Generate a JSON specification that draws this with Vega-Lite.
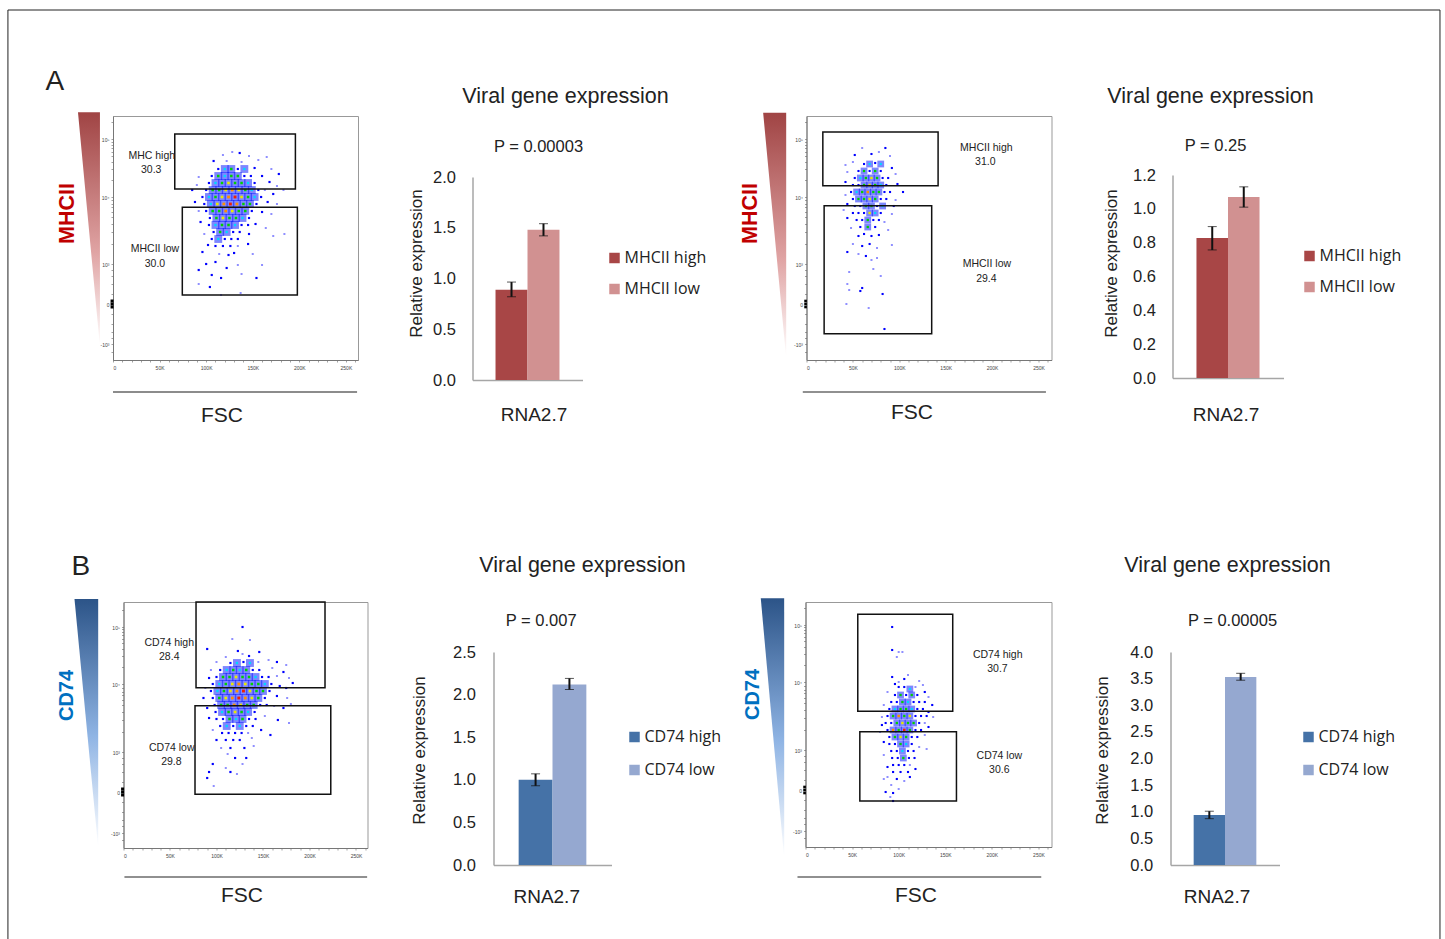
{"$schema":"https://vega.github.io/schema/vega-lite/v6.json","background":"white","padding":{"left":6,"top":9,"right":0,"bottom":0},"bounds":"flush","spacing":486,"resolve":{"scale":{"color":"independent","size":"independent"},"legend":{"color":"independent","size":"independent"}},
"config":{"font":"Liberation Sans","axis":{"grid":false},"title":{"font":"Liberation Sans","fontWeight":"normal","color":"#222"},"text":{"font":"Liberation Sans"}},
"datasets":{
"a1":[{"x":113,"y":191,"d":1},{"x":120,"y":191,"d":2},{"x":127,"y":191,"d":3},{"x":134,"y":191,"d":1},{"x":141,"y":191,"d":2},{"x":106,"y":184,"d":1},{"x":113,"y":184,"d":3},{"x":120,"y":184,"d":2},{"x":127,"y":184,"d":3},{"x":134,"y":184,"d":3},{"x":141,"y":184,"d":1},{"x":148,"y":184,"d":1},{"x":103,"y":177,"d":1},{"x":110,"y":177,"d":2},{"x":117,"y":177,"d":3},{"x":124,"y":177,"d":4},{"x":131,"y":177,"d":3},{"x":138,"y":177,"d":3},{"x":145,"y":177,"d":2},{"x":152,"y":177,"d":1},{"x":100,"y":170,"d":1},{"x":107,"y":170,"d":3},{"x":114,"y":170,"d":3},{"x":121,"y":170,"d":4},{"x":128,"y":170,"d":5},{"x":135,"y":170,"d":4},{"x":142,"y":170,"d":3},{"x":149,"y":170,"d":2},{"x":156,"y":170,"d":1},{"x":96,"y":163,"d":1},{"x":103,"y":163,"d":2},{"x":110,"y":163,"d":3},{"x":117,"y":163,"d":4},{"x":124,"y":163,"d":5},{"x":131,"y":163,"d":6},{"x":138,"y":163,"d":4},{"x":145,"y":163,"d":3},{"x":152,"y":163,"d":2},{"x":159,"y":163,"d":1},{"x":98,"y":156,"d":1},{"x":105,"y":156,"d":2},{"x":112,"y":156,"d":4},{"x":119,"y":156,"d":5},{"x":126,"y":156,"d":6},{"x":133,"y":156,"d":5},{"x":140,"y":156,"d":3},{"x":147,"y":156,"d":3},{"x":154,"y":156,"d":1},{"x":100,"y":149,"d":1},{"x":107,"y":149,"d":3},{"x":114,"y":149,"d":3},{"x":121,"y":149,"d":5},{"x":128,"y":149,"d":4},{"x":135,"y":149,"d":3},{"x":142,"y":149,"d":3},{"x":149,"y":149,"d":1},{"x":104,"y":142,"d":1},{"x":111,"y":142,"d":3},{"x":118,"y":142,"d":4},{"x":125,"y":142,"d":3},{"x":132,"y":142,"d":3},{"x":139,"y":142,"d":2},{"x":146,"y":142,"d":1},{"x":103,"y":135,"d":1},{"x":110,"y":135,"d":2},{"x":117,"y":135,"d":3},{"x":124,"y":135,"d":3},{"x":131,"y":135,"d":2},{"x":138,"y":135,"d":1},{"x":145,"y":135,"d":1},{"x":108,"y":128,"d":1},{"x":115,"y":128,"d":3},{"x":122,"y":128,"d":2},{"x":129,"y":128,"d":1},{"x":136,"y":128,"d":1},{"x":106,"y":121,"d":1},{"x":113,"y":121,"d":2},{"x":120,"y":121,"d":1},{"x":127,"y":121,"d":1},{"x":134,"y":121,"d":1},{"x":110,"y":114,"d":1},{"x":118,"y":114,"d":1},{"x":126,"y":114,"d":1},{"x":118,"y":205,"d":0},{"x":128,"y":208,"d":0},{"x":136,"y":207,"d":1},{"x":146,"y":204,"d":0},{"x":156,"y":200,"d":0},{"x":165,"y":203,"d":0},{"x":108,"y":199,"d":1},{"x":122,"y":199,"d":0},{"x":138,"y":198,"d":0},{"x":152,"y":192,"d":1},{"x":170,"y":191,"d":0},{"x":178,"y":186,"d":1},{"x":92,"y":183,"d":0},{"x":160,"y":184,"d":1},{"x":168,"y":178,"d":1},{"x":176,"y":174,"d":0},{"x":85,"y":170,"d":1},{"x":90,"y":175,"d":0},{"x":163,"y":170,"d":0},{"x":172,"y":166,"d":1},{"x":183,"y":170,"d":0},{"x":88,"y":158,"d":1},{"x":166,"y":158,"d":1},{"x":176,"y":156,"d":0},{"x":92,"y":149,"d":0},{"x":160,"y":148,"d":1},{"x":170,"y":146,"d":0},{"x":94,"y":138,"d":1},{"x":153,"y":136,"d":1},{"x":164,"y":132,"d":0},{"x":98,"y":126,"d":0},{"x":146,"y":126,"d":1},{"x":172,"y":124,"d":0},{"x":184,"y":126,"d":0},{"x":102,"y":115,"d":1},{"x":134,"y":114,"d":0},{"x":145,"y":116,"d":1},{"x":96,"y":108,"d":1},{"x":114,"y":106,"d":0},{"x":124,"y":105,"d":1},{"x":130,"y":107,"d":1},{"x":150,"y":106,"d":0},{"x":100,"y":96,"d":1},{"x":110,"y":98,"d":1},{"x":122,"y":92,"d":1},{"x":134,"y":95,"d":0},{"x":92,"y":90,"d":1},{"x":106,"y":85,"d":1},{"x":138,"y":86,"d":0},{"x":160,"y":95,"d":0},{"x":116,"y":82,"d":1},{"x":154,"y":82,"d":1},{"x":92,"y":76,"d":0},{"x":104,"y":73,"d":1},{"x":116,"y":65,"d":0},{"x":137,"y":67,"d":0},{"x":-1,"y":56,"d":7},{"x":-1,"y":53,"d":7},{"x":-1,"y":59,"d":7}],
"a2":[{"x":62,"y":196,"d":1},{"x":68,"y":196,"d":2},{"x":74,"y":197,"d":1},{"x":80,"y":196,"d":2},{"x":56,"y":189,"d":1},{"x":62,"y":189,"d":3},{"x":68,"y":189,"d":1},{"x":74,"y":189,"d":3},{"x":80,"y":189,"d":1},{"x":52,"y":182,"d":1},{"x":58,"y":182,"d":2},{"x":64,"y":182,"d":3},{"x":70,"y":182,"d":4},{"x":76,"y":182,"d":3},{"x":82,"y":182,"d":1},{"x":88,"y":182,"d":1},{"x":50,"y":175,"d":1},{"x":56,"y":175,"d":1},{"x":62,"y":175,"d":3},{"x":68,"y":175,"d":4},{"x":74,"y":175,"d":3},{"x":80,"y":175,"d":2},{"x":86,"y":175,"d":1},{"x":48,"y":168,"d":1},{"x":54,"y":168,"d":2},{"x":60,"y":168,"d":3},{"x":66,"y":168,"d":5},{"x":72,"y":168,"d":3},{"x":78,"y":168,"d":3},{"x":84,"y":168,"d":1},{"x":90,"y":168,"d":1},{"x":50,"y":161,"d":1},{"x":56,"y":161,"d":3},{"x":62,"y":161,"d":3},{"x":68,"y":161,"d":4},{"x":74,"y":161,"d":3},{"x":80,"y":161,"d":1},{"x":86,"y":161,"d":1},{"x":52,"y":154,"d":1},{"x":58,"y":154,"d":1},{"x":64,"y":154,"d":3},{"x":70,"y":154,"d":3},{"x":76,"y":154,"d":1},{"x":82,"y":154,"d":2},{"x":50,"y":147,"d":1},{"x":56,"y":147,"d":1},{"x":62,"y":147,"d":1},{"x":68,"y":147,"d":4},{"x":74,"y":147,"d":2},{"x":80,"y":147,"d":1},{"x":54,"y":140,"d":1},{"x":60,"y":140,"d":1},{"x":66,"y":140,"d":3},{"x":72,"y":140,"d":1},{"x":78,"y":140,"d":1},{"x":58,"y":133,"d":1},{"x":66,"y":133,"d":3},{"x":74,"y":133,"d":1},{"x":60,"y":212,"d":0},{"x":70,"y":206,"d":1},{"x":78,"y":208,"d":0},{"x":85,"y":212,"d":1},{"x":52,"y":205,"d":1},{"x":90,"y":204,"d":0},{"x":42,"y":195,"d":0},{"x":50,"y":198,"d":0},{"x":92,"y":192,"d":1},{"x":44,"y":188,"d":0},{"x":96,"y":186,"d":0},{"x":42,"y":178,"d":1},{"x":98,"y":176,"d":1},{"x":104,"y":168,"d":1},{"x":42,"y":165,"d":0},{"x":96,"y":160,"d":0},{"x":44,"y":156,"d":1},{"x":94,"y":154,"d":1},{"x":40,"y":150,"d":0},{"x":92,"y":146,"d":0},{"x":44,"y":142,"d":1},{"x":84,"y":138,"d":0},{"x":48,"y":132,"d":0},{"x":88,"y":130,"d":0},{"x":56,"y":124,"d":1},{"x":62,"y":126,"d":1},{"x":70,"y":124,"d":1},{"x":78,"y":125,"d":1},{"x":50,"y":116,"d":0},{"x":60,"y":114,"d":1},{"x":68,"y":116,"d":1},{"x":76,"y":112,"d":0},{"x":92,"y":115,"d":0},{"x":44,"y":108,"d":1},{"x":56,"y":106,"d":0},{"x":64,"y":104,"d":1},{"x":70,"y":100,"d":0},{"x":76,"y":102,"d":0},{"x":72,"y":91,"d":0},{"x":80,"y":84,"d":0},{"x":46,"y":88,"d":0},{"x":44,"y":76,"d":0},{"x":46,"y":70,"d":0},{"x":58,"y":69,"d":1},{"x":60,"y":72,"d":1},{"x":82,"y":66,"d":1},{"x":43,"y":56,"d":0},{"x":67,"y":52,"d":0},{"x":84,"y":31,"d":1},{"x":-1,"y":56,"d":7},{"x":-1,"y":53,"d":7},{"x":-1,"y":59,"d":7}],
"b1":[{"x":115,"y":185,"d":1},{"x":122,"y":185,"d":2},{"x":129,"y":186,"d":1},{"x":136,"y":185,"d":2},{"x":104,"y":178,"d":1},{"x":111,"y":178,"d":2},{"x":118,"y":178,"d":3},{"x":125,"y":178,"d":2},{"x":132,"y":178,"d":3},{"x":139,"y":178,"d":1},{"x":146,"y":178,"d":1},{"x":100,"y":171,"d":1},{"x":107,"y":171,"d":3},{"x":114,"y":171,"d":3},{"x":121,"y":171,"d":4},{"x":128,"y":171,"d":3},{"x":135,"y":171,"d":3},{"x":142,"y":171,"d":2},{"x":149,"y":171,"d":1},{"x":156,"y":171,"d":1},{"x":96,"y":164,"d":1},{"x":103,"y":164,"d":2},{"x":110,"y":164,"d":3},{"x":117,"y":164,"d":4},{"x":124,"y":164,"d":5},{"x":131,"y":164,"d":4},{"x":138,"y":164,"d":3},{"x":145,"y":164,"d":3},{"x":152,"y":164,"d":2},{"x":159,"y":164,"d":1},{"x":94,"y":157,"d":1},{"x":101,"y":157,"d":2},{"x":108,"y":157,"d":3},{"x":115,"y":157,"d":4},{"x":122,"y":157,"d":5},{"x":129,"y":157,"d":6},{"x":136,"y":157,"d":4},{"x":143,"y":157,"d":3},{"x":150,"y":157,"d":3},{"x":157,"y":157,"d":1},{"x":96,"y":150,"d":1},{"x":103,"y":150,"d":3},{"x":110,"y":150,"d":4},{"x":117,"y":150,"d":5},{"x":124,"y":150,"d":6},{"x":131,"y":150,"d":5},{"x":138,"y":150,"d":4},{"x":145,"y":150,"d":3},{"x":152,"y":150,"d":1},{"x":98,"y":143,"d":1},{"x":105,"y":143,"d":3},{"x":112,"y":143,"d":3},{"x":119,"y":143,"d":5},{"x":126,"y":143,"d":4},{"x":133,"y":143,"d":3},{"x":140,"y":143,"d":3},{"x":147,"y":143,"d":1},{"x":154,"y":143,"d":1},{"x":99,"y":136,"d":1},{"x":106,"y":136,"d":2},{"x":113,"y":136,"d":3},{"x":120,"y":136,"d":4},{"x":127,"y":136,"d":3},{"x":134,"y":136,"d":2},{"x":141,"y":136,"d":1},{"x":100,"y":129,"d":1},{"x":107,"y":129,"d":1},{"x":114,"y":129,"d":3},{"x":121,"y":129,"d":2},{"x":128,"y":129,"d":3},{"x":135,"y":129,"d":1},{"x":142,"y":129,"d":1},{"x":104,"y":122,"d":1},{"x":111,"y":122,"d":2},{"x":118,"y":122,"d":1},{"x":125,"y":122,"d":2},{"x":132,"y":122,"d":1},{"x":139,"y":122,"d":1},{"x":106,"y":115,"d":1},{"x":113,"y":115,"d":1},{"x":120,"y":115,"d":1},{"x":127,"y":115,"d":1},{"x":134,"y":115,"d":0},{"x":110,"y":108,"d":1},{"x":118,"y":108,"d":1},{"x":125,"y":108,"d":1},{"x":138,"y":110,"d":0},{"x":128,"y":221,"d":1},{"x":117,"y":209,"d":0},{"x":136,"y":208,"d":0},{"x":90,"y":199,"d":1},{"x":123,"y":197,"d":1},{"x":128,"y":194,"d":0},{"x":146,"y":196,"d":1},{"x":110,"y":191,"d":0},{"x":135,"y":192,"d":1},{"x":156,"y":188,"d":0},{"x":100,"y":186,"d":0},{"x":145,"y":186,"d":0},{"x":165,"y":186,"d":1},{"x":175,"y":183,"d":0},{"x":94,"y":178,"d":0},{"x":160,"y":180,"d":0},{"x":172,"y":176,"d":1},{"x":92,"y":170,"d":1},{"x":165,"y":172,"d":0},{"x":178,"y":170,"d":0},{"x":182,"y":165,"d":1},{"x":88,"y":160,"d":0},{"x":168,"y":162,"d":1},{"x":175,"y":160,"d":1},{"x":86,"y":150,"d":1},{"x":165,"y":152,"d":1},{"x":176,"y":150,"d":0},{"x":90,"y":140,"d":1},{"x":162,"y":142,"d":0},{"x":172,"y":140,"d":1},{"x":180,"y":144,"d":0},{"x":92,"y":130,"d":1},{"x":152,"y":132,"d":0},{"x":166,"y":128,"d":1},{"x":178,"y":125,"d":0},{"x":96,"y":118,"d":0},{"x":148,"y":118,"d":1},{"x":158,"y":113,"d":1},{"x":100,"y":108,"d":1},{"x":105,"y":100,"d":0},{"x":115,"y":100,"d":1},{"x":130,"y":100,"d":1},{"x":140,"y":102,"d":0},{"x":112,"y":94,"d":0},{"x":120,"y":90,"d":1},{"x":132,"y":90,"d":1},{"x":128,"y":84,"d":0},{"x":96,"y":84,"d":1},{"x":92,"y":76,"d":1},{"x":110,"y":80,"d":0},{"x":115,"y":76,"d":1},{"x":122,"y":74,"d":0},{"x":90,"y":70,"d":1},{"x":97,"y":62,"d":0},{"x":-1,"y":56,"d":7},{"x":-1,"y":53,"d":7},{"x":-1,"y":59,"d":7}],
"b2":[{"x":100,"y":160,"d":1},{"x":106,"y":160,"d":1},{"x":112,"y":158,"d":2},{"x":96,"y":152,"d":1},{"x":102,"y":152,"d":3},{"x":108,"y":152,"d":1},{"x":114,"y":152,"d":3},{"x":120,"y":152,"d":1},{"x":92,"y":145,"d":1},{"x":98,"y":145,"d":1},{"x":104,"y":145,"d":3},{"x":110,"y":145,"d":2},{"x":116,"y":145,"d":1},{"x":122,"y":145,"d":1},{"x":128,"y":145,"d":1},{"x":90,"y":138,"d":1},{"x":96,"y":138,"d":2},{"x":102,"y":138,"d":3},{"x":108,"y":138,"d":3},{"x":114,"y":138,"d":2},{"x":120,"y":138,"d":1},{"x":126,"y":138,"d":1},{"x":88,"y":131,"d":1},{"x":94,"y":131,"d":3},{"x":100,"y":131,"d":5},{"x":106,"y":131,"d":3},{"x":112,"y":131,"d":4},{"x":118,"y":131,"d":1},{"x":124,"y":131,"d":1},{"x":130,"y":131,"d":1},{"x":86,"y":124,"d":1},{"x":92,"y":124,"d":1},{"x":98,"y":124,"d":3},{"x":104,"y":124,"d":4},{"x":110,"y":124,"d":3},{"x":116,"y":124,"d":3},{"x":122,"y":124,"d":1},{"x":128,"y":124,"d":0},{"x":88,"y":117,"d":1},{"x":94,"y":117,"d":5},{"x":100,"y":117,"d":3},{"x":106,"y":117,"d":6},{"x":112,"y":117,"d":3},{"x":118,"y":117,"d":1},{"x":124,"y":117,"d":1},{"x":90,"y":110,"d":1},{"x":96,"y":110,"d":3},{"x":102,"y":110,"d":4},{"x":108,"y":110,"d":3},{"x":114,"y":110,"d":1},{"x":120,"y":110,"d":1},{"x":90,"y":103,"d":1},{"x":96,"y":103,"d":1},{"x":102,"y":103,"d":3},{"x":108,"y":103,"d":2},{"x":114,"y":103,"d":1},{"x":92,"y":96,"d":1},{"x":98,"y":96,"d":1},{"x":104,"y":96,"d":2},{"x":110,"y":96,"d":1},{"x":116,"y":96,"d":1},{"x":93,"y":89,"d":1},{"x":99,"y":89,"d":1},{"x":105,"y":89,"d":3},{"x":111,"y":89,"d":1},{"x":117,"y":89,"d":1},{"x":94,"y":82,"d":1},{"x":100,"y":82,"d":1},{"x":106,"y":82,"d":1},{"x":112,"y":82,"d":0},{"x":94,"y":75,"d":1},{"x":102,"y":75,"d":1},{"x":110,"y":75,"d":1},{"x":93,"y":220,"d":1},{"x":93,"y":197,"d":1},{"x":98,"y":190,"d":0},{"x":100,"y":195,"d":0},{"x":104,"y":195,"d":0},{"x":110,"y":172,"d":0},{"x":93,"y":170,"d":1},{"x":106,"y":168,"d":1},{"x":100,"y":165,"d":0},{"x":96,"y":163,"d":1},{"x":122,"y":166,"d":0},{"x":126,"y":162,"d":0},{"x":88,"y":155,"d":0},{"x":118,"y":160,"d":0},{"x":128,"y":155,"d":1},{"x":132,"y":150,"d":0},{"x":136,"y":142,"d":1},{"x":84,"y":142,"d":0},{"x":132,"y":135,"d":1},{"x":82,"y":130,"d":0},{"x":137,"y":130,"d":0},{"x":82,"y":122,"d":1},{"x":132,"y":120,"d":1},{"x":80,"y":115,"d":0},{"x":128,"y":112,"d":0},{"x":84,"y":105,"d":1},{"x":122,"y":100,"d":0},{"x":84,"y":92,"d":0},{"x":130,"y":98,"d":0},{"x":88,"y":80,"d":1},{"x":118,"y":78,"d":1},{"x":88,"y":70,"d":0},{"x":98,"y":68,"d":1},{"x":106,"y":66,"d":0},{"x":112,"y":70,"d":1},{"x":84,"y":68,"d":0},{"x":92,"y":62,"d":0},{"x":100,"y":58,"d":0},{"x":86,"y":55,"d":1},{"x":94,"y":54,"d":1},{"x":91,"y":50,"d":0},{"x":94,"y":46,"d":1},{"x":-1,"y":57,"d":7},{"x":-1,"y":54,"d":7},{"x":-1,"y":60,"d":7}]
},
"vconcat":[
{"bounds":"flush","spacing":693.5,"resolve":{"scale":{"color":"independent","size":"independent"},"legend":{"color":"independent","size":"independent"}},"hconcat":[
{"bounds":"flush","spacing":114.5,"resolve":{"scale":{"color":"independent","size":"independent"},"legend":{"color":"independent","size":"independent"}},"hconcat":[
{"width":245,"height":244,"view":{"stroke":"#999"},"title":{"text":"A","fontSize":28,"anchor":"start","frame":"group","dx":-67.5,"offset":16},
"layer":[
{"data":{"values":[{"a":-37.6,"b":-14,"y":247.7},{"a":-14,"b":-14,"y":13.3}]},"mark":{"type":"area","orient":"horizontal","clip":false,"color":{"gradient":"linear","x1":0,"y1":0,"x2":0,"y2":1,"stops":[{"offset":0,"color":"#a04444"},{"offset":0.6,"color":"#e0a4a4"},{"offset":1,"color":"#ffffff"}]}},"encoding":{"x":{"field":"a","type":"quantitative","scale":{"domain":[0,263],"nice":false},"axis":{"title":"FSC","titleFontSize":21,"titleFontWeight":"normal","titleColor":"#222","titleX":108.5,"titleY":55,"titleBaseline":"middle","labelOverlap":false,"tickCount":100,"values":[0,10,20,30,40,50,60,70,80,90,100,110,120,130,140,150,160,170,180,190,200,210,220,230,240,250,260],"labelExpr":"datum.value%50==0?(datum.value==0?'0':datum.value+'K'):''","labelFontSize":5,"labelColor":"#444","tickSize":2,"tickWidth":0.5,"tickColor":"#444","domainColor":"#777","labelPadding":3}},"x2":{"field":"b"},"y":{"field":"y","type":"quantitative","scale":{"domain":[0,244],"nice":false},"axis":{"title":"MHCII","titleFontSize":21.5,"titleFontWeight":"bold","titleColor":"#c00000","titleX":-45.5,"titleY":97,"titleBaseline":"middle","labelOverlap":false,"tickCount":100,"values":[221,163,96,56,16,238,116,128,136,143,148,153,156,160,180,191,198,204,208,212,215,218,66,76,84,90,46,36,28,22,8],"labelExpr":"datum.value==221?'10⁵':datum.value==163?'10⁴':datum.value==96?'10³':datum.value==56?'0':datum.value==16?'-10³':''","labelFontSize":5,"labelColor":"#444","tickSize":2,"tickWidth":0.5,"tickColor":"#444","domainColor":"#777","labelPadding":2}}}},
{"data":{"values":[{"a":0,"b":262,"y":-32}]},"mark":{"type":"rule","clip":false,"color":"#666","strokeWidth":1.5},"encoding":{"x":{"field":"a","type":"quantitative"},"x2":{"field":"b"},"y":{"field":"y","type":"quantitative"}}},
{"data":{"name":"a1"},"transform":[{"filter":"datum.d>=2 && datum.d<7"}],"mark":{"type":"square","color":"#0010ff","opacity":0.5,"size":62},"encoding":{"x":{"field":"x","type":"quantitative"},"y":{"field":"y","type":"quantitative"}}},
{"data":{"name":"a1"},"mark":{"type":"square","opacity":1},"encoding":{"x":{"field":"x","type":"quantitative"},"y":{"field":"y","type":"quantitative"},"color":{"field":"d","type":"ordinal","legend":null,"scale":{"domain":[0,1,2,3,4,5,6,7],"range":["#8f8fff","#0000ff","#00d8ff","#00d000","#e8e800","#ff9000","#f02000","#000000"]}},"size":{"field":"d","type":"ordinal","legend":null,"scale":{"domain":[0,1,2,3,4,5,6,7],"range":[4,9,30,36,36,36,36,5]}}}},
{"data":{"values":[{"a":66.3,"b":195.8,"y1":226,"y2":171},{"a":74.4,"b":197.9,"y1":152.7,"y2":65}]},"mark":{"type":"rect","fill":null,"stroke":"#111","strokeWidth":1.5},"encoding":{"x":{"field":"a","type":"quantitative"},"x2":{"field":"b"},"y":{"field":"y1","type":"quantitative"},"y2":{"field":"y2"}}},
{"data":{"values":[{"x":41.6,"y":204,"t":"MHC high"},{"x":41,"y":190,"t":"30.3"},{"x":45,"y":111,"t":"MHCII low"},{"x":45,"y":96,"t":"30.0"}]},"mark":{"type":"text","fontSize":10.5,"color":"#222"},"encoding":{"x":{"field":"x","type":"quantitative"},"y":{"field":"y","type":"quantitative"},"text":{"field":"t"}}}
]},
{"bounds":"flush","spacing":0,"resolve":{"scale":{"color":"independent","size":"independent"},"legend":{"color":"independent","size":"independent"}},"vconcat":[
{"width":110,"height":61,"view":{"stroke":null},"title":{"text":"Viral gene expression","fontSize":21.5,"dx":38,"offset":9},"data":{"values":[{"t":"P = 0.00003"}]},"mark":{"type":"text","fontSize":16.5,"color":"#222","dx":11},"encoding":{"text":{"field":"t"}}},
{"width":110,"height":203,"view":{"stroke":null},"data":{"values":[{"group":"MHCII high","v":0.89,"lo":0.82,"hi":0.965},{"group":"MHCII low","v":1.48,"lo":1.42,"hi":1.54}]},"encoding":{"x":{"field":"group","type":"nominal","sort":null,"scale":{"paddingInner":0,"paddingOuter":0.72},"axis":{"title":"RNA2.7","titleFontSize":19,"titleFontWeight":"normal","titleColor":"#222","titleX":61,"titleY":34,"titleBaseline":"middle","labels":false,"ticks":false,"domainColor":"#a6a6a6","domainWidth":1.5}}},
"layer":[
{"mark":"bar","encoding":{"y":{"field":"v","type":"quantitative","scale":{"domain":[0,2],"nice":false},"axis":{"title":"Relative expression","titleFontSize":17,"titleFontWeight":"normal","titleColor":"#222","titleX":-56,"titleY":86,"titleBaseline":"middle","labelOverlap":false,"tickCount":100,"values":[0,0.5,1,1.5,2],"format":".1f","ticks":false,"labelFontSize":16.5,"labelColor":"#222","labelPadding":17,"domainColor":"#a6a6a6","domainWidth":1.5}},"color":{"field":"group","type":"nominal","sort":null,"scale":{"range":["#a84646","#d19191"]},"legend":{"orient":"none","legendX":134,"legendY":73,"title":null,"symbolType":"square","symbolSize":110,"symbolStrokeWidth":0,"labelFont":"Open Sans","labelFontSize":16,"labelColor":"#222","rowPadding":15,"labelOffset":2,"padding":0}}}},
{"mark":{"type":"errorbar","ticks":{"color":"#111","size":9,"strokeWidth":2},"rule":{"color":"#111","strokeWidth":2}},"encoding":{"y":{"field":"lo","type":"quantitative","title":"Relative expression"},"y2":{"field":"hi"}}}
]}
]}
]},
{"bounds":"flush","spacing":121,"resolve":{"scale":{"color":"independent","size":"independent"},"legend":{"color":"independent","size":"independent"}},"hconcat":[
{"width":245,"height":244,"view":{"stroke":"#999"},
"layer":[
{"data":{"values":[{"a":-860.5,"b":682.6,"y1":350,"y2":-582}]},"mark":{"type":"rect","clip":false,"fill":null,"stroke":"#222","strokeWidth":1},"encoding":{"x":{"field":"a","type":"quantitative","scale":{"domain":[0,264],"nice":false}},"x2":{"field":"b"},"y":{"field":"y1","type":"quantitative","scale":{"domain":[0,244],"nice":false}},"y2":{"field":"y2"}}},
{"data":{"values":[{"a":-46.7,"b":-21.9,"y":247.3},{"a":-21.9,"b":-21.9,"y":2}]},"mark":{"type":"area","orient":"horizontal","clip":false,"color":{"gradient":"linear","x1":0,"y1":0,"x2":0,"y2":1,"stops":[{"offset":0,"color":"#a04444"},{"offset":0.6,"color":"#e0a4a4"},{"offset":1,"color":"#ffffff"}]}},"encoding":{"x":{"field":"a","type":"quantitative","scale":{"domain":[0,264],"nice":false},"axis":{"title":"FSC","titleFontSize":21,"titleFontWeight":"normal","titleColor":"#222","titleX":105,"titleY":52,"titleBaseline":"middle","labelOverlap":false,"tickCount":100,"values":[0,10,20,30,40,50,60,70,80,90,100,110,120,130,140,150,160,170,180,190,200,210,220,230,240,250,260],"labelExpr":"datum.value%50==0?(datum.value==0?'0':datum.value+'K'):''","labelFontSize":5,"labelColor":"#444","tickSize":2,"tickWidth":0.5,"tickColor":"#444","domainColor":"#777","labelPadding":3}},"x2":{"field":"b"},"y":{"field":"y","type":"quantitative","scale":{"domain":[0,244],"nice":false},"axis":{"title":"MHCII","titleFontSize":21.5,"titleFontWeight":"bold","titleColor":"#c00000","titleX":-56,"titleY":97,"titleBaseline":"middle","labelOverlap":false,"tickCount":100,"values":[221,163,96,56,16,238,116,128,136,143,148,153,156,160,180,191,198,204,208,212,215,218,66,76,84,90,46,36,28,22,8],"labelExpr":"datum.value==221?'10⁵':datum.value==163?'10⁴':datum.value==96?'10³':datum.value==56?'0':datum.value==16?'-10³':''","labelFontSize":5,"labelColor":"#444","tickSize":2,"tickWidth":0.5,"tickColor":"#444","domainColor":"#777","labelPadding":2}}}},
{"data":{"values":[{"a":-4,"b":258,"y":-32}]},"mark":{"type":"rule","clip":false,"color":"#222","strokeWidth":1.2},"encoding":{"x":{"field":"a","type":"quantitative"},"x2":{"field":"b"},"y":{"field":"y","type":"quantitative"}}},
{"data":{"name":"a2"},"transform":[{"filter":"datum.d>=2 && datum.d<7"}],"mark":{"type":"square","color":"#0010ff","opacity":0.5,"size":46},"encoding":{"x":{"field":"x","type":"quantitative"},"y":{"field":"y","type":"quantitative"}}},
{"data":{"name":"a2"},"mark":{"type":"square","opacity":1},"encoding":{"x":{"field":"x","type":"quantitative"},"y":{"field":"y","type":"quantitative"},"color":{"field":"d","type":"ordinal","legend":null,"scale":{"domain":[0,1,2,3,4,5,6,7],"range":["#8f8fff","#0000ff","#00d8ff","#00d000","#e8e800","#ff9000","#f02000","#000000"]}},"size":{"field":"d","type":"ordinal","legend":null,"scale":{"domain":[0,1,2,3,4,5,6,7],"range":[4,7,20,24,24,24,24,5]}}}},
{"data":{"values":[{"a":17.6,"b":141.8,"y1":228,"y2":174.3},{"a":19,"b":134.9,"y1":154.3,"y2":26.3}]},"mark":{"type":"rect","fill":null,"stroke":"#111","strokeWidth":1.5},"encoding":{"x":{"field":"a","type":"quantitative"},"x2":{"field":"b"},"y":{"field":"y1","type":"quantitative"},"y2":{"field":"y2"}}},
{"data":{"values":[{"x":193.8,"y":212,"t":"MHCII high"},{"x":192.7,"y":198,"t":"31.0"},{"x":194.4,"y":96,"t":"MHCII low"},{"x":193.8,"y":81,"t":"29.4"}]},"mark":{"type":"text","fontSize":10.5,"color":"#222"},"encoding":{"x":{"field":"x","type":"quantitative"},"y":{"field":"y","type":"quantitative"},"text":{"field":"t"}}}
]},
{"bounds":"flush","spacing":0,"resolve":{"scale":{"color":"independent","size":"independent"},"legend":{"color":"independent","size":"independent"}},"vconcat":[
{"width":111,"height":59,"view":{"stroke":null},"title":{"text":"Viral gene expression","fontSize":21.5,"dx":-17.5,"offset":9},"data":{"values":[{"t":"P = 0.25"}]},"mark":{"type":"text","fontSize":16.5,"color":"#222","dx":-12.5},"encoding":{"text":{"field":"t"}}},
{"width":111,"height":203,"view":{"stroke":null},"data":{"values":[{"group":"MHCII high","v":0.828,"lo":0.757,"hi":0.895},{"group":"MHCII low","v":1.07,"lo":1.01,"hi":1.13}]},"encoding":{"x":{"field":"group","type":"nominal","sort":null,"scale":{"paddingInner":0,"paddingOuter":0.76},"axis":{"title":"RNA2.7","titleFontSize":19,"titleFontWeight":"normal","titleColor":"#222","titleX":53,"titleY":36,"titleBaseline":"middle","labels":false,"ticks":false,"domainColor":"#a6a6a6","domainWidth":1.5}}},
"layer":[
{"mark":"bar","encoding":{"y":{"field":"v","type":"quantitative","scale":{"domain":[0,1.2],"nice":false},"axis":{"title":"Relative expression","titleFontSize":17,"titleFontWeight":"normal","titleColor":"#222","titleX":-61,"titleY":88,"titleBaseline":"middle","labelOverlap":false,"tickCount":100,"values":[0,0.2,0.4,0.6,0.8,1,1.2],"format":".1f","ticks":false,"labelFontSize":16.5,"labelColor":"#222","labelPadding":17,"domainColor":"#a6a6a6","domainWidth":1.5}},"color":{"field":"group","type":"nominal","sort":null,"scale":{"range":["#a84646","#d19191"]},"legend":{"orient":"none","legendX":129,"legendY":73,"title":null,"symbolType":"square","symbolSize":110,"symbolStrokeWidth":0,"labelFont":"Open Sans","labelFontSize":16,"labelColor":"#222","rowPadding":15,"labelOffset":2,"padding":0}}}},
{"mark":{"type":"errorbar","ticks":{"color":"#111","size":9,"strokeWidth":2},"rule":{"color":"#111","strokeWidth":2}},"encoding":{"y":{"field":"lo","type":"quantitative","title":"Relative expression"},"y2":{"field":"hi"}}}
]}
]}
]}
]},
{"bounds":"flush","spacing":9.5,"resolve":{"scale":{"color":"independent","size":"independent"},"legend":{"color":"independent","size":"independent"}},"hconcat":[
{"width":1,"height":1,"view":{"stroke":null},"data":{"values":[{"t":""}]},"mark":"text","encoding":{"text":{"field":"t"}}},
{"bounds":"flush","spacing":682,"resolve":{"scale":{"color":"independent","size":"independent"},"legend":{"color":"independent","size":"independent"}},"hconcat":[
{"bounds":"flush","spacing":126,"resolve":{"scale":{"color":"independent","size":"independent"},"legend":{"color":"independent","size":"independent"}},"hconcat":[
{"width":244,"height":246,"view":{"stroke":"#999"},"title":{"text":"B","fontSize":28,"anchor":"start","frame":"group","dx":-52,"offset":18},
"layer":[
{"data":{"values":[{"a":-52.7,"b":-27.2,"y":249},{"a":-27.2,"b":-27.2,"y":0}]},"mark":{"type":"area","orient":"horizontal","clip":false,"color":{"gradient":"linear","x1":0,"y1":0,"x2":0,"y2":1,"stops":[{"offset":0,"color":"#2c5488"},{"offset":0.55,"color":"#8fb4e4"},{"offset":1,"color":"#ffffff"}]}},"encoding":{"x":{"field":"a","type":"quantitative","scale":{"domain":[0,262.4],"nice":false},"axis":{"title":"FSC","titleFontSize":21,"titleFontWeight":"normal","titleColor":"#222","titleX":118,"titleY":47,"titleBaseline":"middle","labelOverlap":false,"tickCount":100,"values":[0,10,20,30,40,50,60,70,80,90,100,110,120,130,140,150,160,170,180,190,200,210,220,230,240,250,260],"labelExpr":"datum.value%50==0?(datum.value==0?'0':datum.value+'K'):''","labelFontSize":5,"labelColor":"#444","tickSize":2,"tickWidth":0.5,"tickColor":"#444","domainColor":"#777","labelPadding":3}},"x2":{"field":"b"},"y":{"field":"y","type":"quantitative","scale":{"domain":[0,246],"nice":false},"axis":{"title":"CD74","titleFontSize":20,"titleFontWeight":"bold","titleColor":"#0070c0","titleX":-57,"titleY":93,"titleBaseline":"middle","labelOverlap":false,"tickCount":100,"values":[221,164,96,56,15,238,116,128,136,143,148,153,156,160,181,192,199,205,209,213,216,219,66,76,84,90,46,36,28,22,8],"labelExpr":"datum.value==221?'10⁵':datum.value==164?'10⁴':datum.value==96?'10³':datum.value==56?'0':datum.value==15?'-10³':''","labelFontSize":5,"labelColor":"#444","tickSize":2,"tickWidth":0.5,"tickColor":"#444","domainColor":"#777","labelPadding":2}}}},
{"data":{"values":[{"a":1,"b":262,"y":-29}]},"mark":{"type":"rule","clip":false,"color":"#222","strokeWidth":1.2},"encoding":{"x":{"field":"a","type":"quantitative"},"x2":{"field":"b"},"y":{"field":"y","type":"quantitative"}}},
{"data":{"name":"b1"},"transform":[{"filter":"datum.d>=2 && datum.d<7"}],"mark":{"type":"square","color":"#0010ff","opacity":0.5,"size":62},"encoding":{"x":{"field":"x","type":"quantitative"},"y":{"field":"y","type":"quantitative"}}},
{"data":{"name":"b1"},"mark":{"type":"square","opacity":1},"encoding":{"x":{"field":"x","type":"quantitative"},"y":{"field":"y","type":"quantitative"},"color":{"field":"d","type":"ordinal","legend":null,"scale":{"domain":[0,1,2,3,4,5,6,7],"range":["#8f8fff","#0000ff","#00d8ff","#00d000","#e8e800","#ff9000","#f02000","#000000"]}},"size":{"field":"d","type":"ordinal","legend":null,"scale":{"domain":[0,1,2,3,4,5,6,7],"range":[4,9,30,36,36,36,36,5]}}}},
{"data":{"values":[{"a":78,"b":216.7,"y1":246,"y2":160.3},{"a":76.9,"b":222.9,"y1":142.3,"y2":53.7}]},"mark":{"type":"rect","fill":null,"stroke":"#111","strokeWidth":1.5},"encoding":{"x":{"field":"a","type":"quantitative"},"x2":{"field":"b"},"y":{"field":"y1","type":"quantitative"},"y2":{"field":"y2"}}},
{"data":{"values":[{"x":49.2,"y":205,"t":"CD74 high"},{"x":49.2,"y":191,"t":"28.4"},{"x":51.9,"y":100,"t":"CD74 low"},{"x":51.5,"y":86,"t":"29.8"}]},"mark":{"type":"text","fontSize":10.5,"color":"#222"},"encoding":{"x":{"field":"x","type":"quantitative"},"y":{"field":"y","type":"quantitative"},"text":{"field":"t"}}}
]},
{"bounds":"flush","spacing":0,"resolve":{"scale":{"color":"independent","size":"independent"},"legend":{"color":"independent","size":"independent"}},"vconcat":[
{"width":118,"height":50,"view":{"stroke":null},"title":{"text":"Viral gene expression","fontSize":21.5,"dx":30,"offset":26},"data":{"values":[{"t":"P = 0.007"}]},"mark":{"type":"text","fontSize":16.5,"color":"#222","dx":-11.3,"dy":-6},"encoding":{"text":{"field":"t"}}},
{"width":118,"height":213,"view":{"stroke":null},"data":{"values":[{"group":"CD74 high","v":1.0,"lo":0.93,"hi":1.07},{"group":"CD74 low","v":2.12,"lo":2.06,"hi":2.19}]},"encoding":{"x":{"field":"group","type":"nominal","sort":null,"scale":{"paddingInner":0,"paddingOuter":0.743},"axis":{"title":"RNA2.7","titleFontSize":19,"titleFontWeight":"normal","titleColor":"#222","titleX":52.7,"titleY":31,"titleBaseline":"middle","labels":false,"ticks":false,"domainColor":"#a6a6a6","domainWidth":1.5}}},
"layer":[
{"mark":"bar","encoding":{"y":{"field":"v","type":"quantitative","scale":{"domain":[0,2.5],"nice":false},"axis":{"title":"Relative expression","titleFontSize":17,"titleFontWeight":"normal","titleColor":"#222","titleX":-74,"titleY":98,"titleBaseline":"middle","labelOverlap":false,"tickCount":100,"values":[0,0.5,1,1.5,2,2.5],"format":".1f","ticks":false,"labelFontSize":16.5,"labelColor":"#222","labelPadding":18,"domainColor":"#a6a6a6","domainWidth":1.5}},"color":{"field":"group","type":"nominal","sort":null,"scale":{"range":["#4572a7","#95a8d0"]},"legend":{"orient":"none","legendX":133,"legendY":77,"title":null,"symbolType":"square","symbolSize":110,"symbolStrokeWidth":0,"labelFont":"Open Sans","labelFontSize":16,"labelColor":"#222","rowPadding":17,"labelOffset":2,"padding":0}}}},
{"mark":{"type":"errorbar","ticks":{"color":"#111","size":9,"strokeWidth":2},"rule":{"color":"#111","strokeWidth":2}},"encoding":{"y":{"field":"lo","type":"quantitative","title":"Relative expression"},"y2":{"field":"hi"}}}
]}
]}
]},
{"bounds":"flush","spacing":119,"resolve":{"scale":{"color":"independent","size":"independent"},"legend":{"color":"independent","size":"independent"}},"hconcat":[
{"width":246,"height":245,"view":{"stroke":"#999"},
"layer":[
{"data":{"values":[{"a":-48,"b":-22.9,"y":248.7},{"a":-22.9,"b":-22.9,"y":-11}]},"mark":{"type":"area","orient":"horizontal","clip":false,"color":{"gradient":"linear","x1":0,"y1":0,"x2":0,"y2":1,"stops":[{"offset":0,"color":"#2c5488"},{"offset":0.55,"color":"#8fb4e4"},{"offset":1,"color":"#ffffff"}]}},"encoding":{"x":{"field":"a","type":"quantitative","scale":{"domain":[0,264],"nice":false},"axis":{"title":"FSC","titleFontSize":21,"titleFontWeight":"normal","titleColor":"#222","titleX":110,"titleY":48,"titleBaseline":"middle","labelOverlap":false,"tickCount":100,"values":[0,10,20,30,40,50,60,70,80,90,100,110,120,130,140,150,160,170,180,190,200,210,220,230,240,250,260],"labelExpr":"datum.value%50==0?(datum.value==0?'0':datum.value+'K'):''","labelFontSize":5,"labelColor":"#444","tickSize":2,"tickWidth":0.5,"tickColor":"#444","domainColor":"#777","labelPadding":3}},"x2":{"field":"b"},"y":{"field":"y","type":"quantitative","scale":{"domain":[0,245],"nice":false},"axis":{"title":"CD74","titleFontSize":20,"titleFontWeight":"bold","titleColor":"#0070c0","titleX":-53,"titleY":92,"titleBaseline":"middle","labelOverlap":false,"tickCount":100,"values":[222,165,97,57,16,239,117,129,137,144,149,154,157,161,182,193,200,206,210,214,217,220,67,77,85,91,47,37,29,23,9],"labelExpr":"datum.value==222?'10⁵':datum.value==165?'10⁴':datum.value==97?'10³':datum.value==57?'0':datum.value==16?'-10³':''","labelFontSize":5,"labelColor":"#444","tickSize":2,"tickWidth":0.5,"tickColor":"#444","domainColor":"#777","labelPadding":2}}}},
{"data":{"values":[{"a":-8.6,"b":253,"y":-30}]},"mark":{"type":"rule","clip":false,"color":"#222","strokeWidth":1.2},"encoding":{"x":{"field":"a","type":"quantitative"},"x2":{"field":"b"},"y":{"field":"y","type":"quantitative"}}},
{"data":{"name":"b2"},"transform":[{"filter":"datum.d>=2 && datum.d<7"}],"mark":{"type":"square","color":"#0010ff","opacity":0.5,"size":46},"encoding":{"x":{"field":"x","type":"quantitative"},"y":{"field":"y","type":"quantitative"}}},
{"data":{"name":"b2"},"mark":{"type":"square","opacity":1},"encoding":{"x":{"field":"x","type":"quantitative"},"y":{"field":"y","type":"quantitative"},"color":{"field":"d","type":"ordinal","legend":null,"scale":{"domain":[0,1,2,3,4,5,6,7],"range":["#8f8fff","#0000ff","#00d8ff","#00d000","#e8e800","#ff9000","#f02000","#000000"]}},"size":{"field":"d","type":"ordinal","legend":null,"scale":{"domain":[0,1,2,3,4,5,6,7],"range":[4,7,20,24,24,24,24,5]}}}},
{"data":{"values":[{"a":56.1,"b":158,"y1":232.7,"y2":135.7},{"a":58.3,"b":162,"y1":115.3,"y2":46}]},"mark":{"type":"rect","fill":null,"stroke":"#111","strokeWidth":1.5},"encoding":{"x":{"field":"a","type":"quantitative"},"x2":{"field":"b"},"y":{"field":"y1","type":"quantitative"},"y2":{"field":"y2"}}},
{"data":{"values":[{"x":206.3,"y":192,"t":"CD74 high"},{"x":206,"y":178,"t":"30.7"},{"x":208,"y":91,"t":"CD74 low"},{"x":208,"y":77,"t":"30.6"}]},"mark":{"type":"text","fontSize":10.5,"color":"#222"},"encoding":{"x":{"field":"x","type":"quantitative"},"y":{"field":"y","type":"quantitative"},"text":{"field":"t"}}}
]},
{"bounds":"flush","spacing":0,"resolve":{"scale":{"color":"independent","size":"independent"},"legend":{"color":"independent","size":"independent"}},"vconcat":[
{"width":109,"height":50,"view":{"stroke":null},"title":{"text":"Viral gene expression","fontSize":21.5,"dx":2.5,"offset":26},"data":{"values":[{"t":"P = 0.00005"}]},"mark":{"type":"text","fontSize":16.5,"color":"#222","dx":7.5,"dy":-6},"encoding":{"text":{"field":"t"}}},
{"width":109,"height":213,"view":{"stroke":null},"data":{"values":[{"group":"CD74 high","v":0.94,"lo":0.87,"hi":1.01},{"group":"CD74 low","v":3.53,"lo":3.47,"hi":3.6}]},"encoding":{"x":{"field":"group","type":"nominal","sort":null,"scale":{"paddingInner":0,"paddingOuter":0.739},"axis":{"title":"RNA2.7","titleFontSize":19,"titleFontWeight":"normal","titleColor":"#222","titleX":46,"titleY":31,"titleBaseline":"middle","labels":false,"ticks":false,"domainColor":"#a6a6a6","domainWidth":1.5}}},
"layer":[
{"mark":"bar","encoding":{"y":{"field":"v","type":"quantitative","scale":{"domain":[0,4],"nice":false},"axis":{"title":"Relative expression","titleFontSize":17,"titleFontWeight":"normal","titleColor":"#222","titleX":-68,"titleY":98,"titleBaseline":"middle","labelOverlap":false,"tickCount":100,"values":[0,0.5,1,1.5,2,2.5,3,3.5,4],"format":".1f","ticks":false,"labelFontSize":16.5,"labelColor":"#222","labelPadding":17.7,"domainColor":"#a6a6a6","domainWidth":1.5}},"color":{"field":"group","type":"nominal","sort":null,"scale":{"range":["#4572a7","#95a8d0"]},"legend":{"orient":"none","legendX":130,"legendY":77,"title":null,"symbolType":"square","symbolSize":110,"symbolStrokeWidth":0,"labelFont":"Open Sans","labelFontSize":16,"labelColor":"#222","rowPadding":17,"labelOffset":2,"padding":0}}}},
{"mark":{"type":"errorbar","ticks":{"color":"#111","size":9,"strokeWidth":2},"rule":{"color":"#111","strokeWidth":2}},"encoding":{"y":{"field":"lo","type":"quantitative","title":"Relative expression"},"y2":{"field":"hi"}}}
]}
]}
]}
]}
]}
]}
